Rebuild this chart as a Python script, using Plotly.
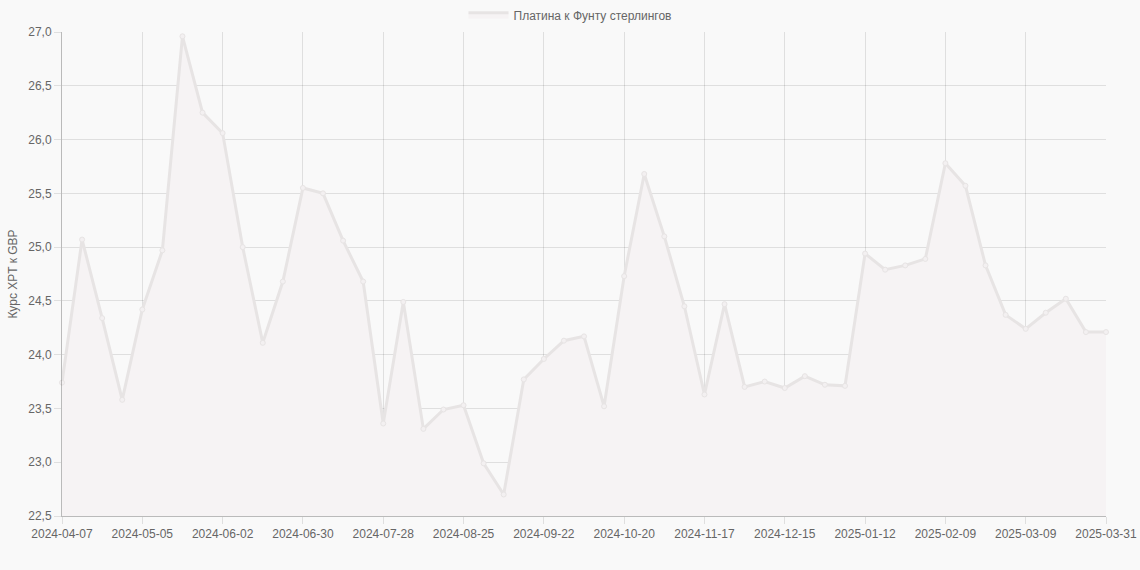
import plotly.graph_objects as go

# weekly dates (category axis, like the original chart)
dates = [
    "2024-04-07", "2024-04-14", "2024-04-21", "2024-04-28", "2024-05-05", "2024-05-12",
    "2024-05-19", "2024-05-26", "2024-06-02", "2024-06-09", "2024-06-16", "2024-06-23",
    "2024-06-30", "2024-07-07", "2024-07-14", "2024-07-21", "2024-07-28", "2024-08-04",
    "2024-08-11", "2024-08-18", "2024-08-25", "2024-09-01", "2024-09-08", "2024-09-15",
    "2024-09-22", "2024-09-29", "2024-10-06", "2024-10-13", "2024-10-20", "2024-10-27",
    "2024-11-03", "2024-11-10", "2024-11-17", "2024-11-24", "2024-12-01", "2024-12-08",
    "2024-12-15", "2024-12-22", "2024-12-29", "2025-01-05", "2025-01-12", "2025-01-19",
    "2025-01-26", "2025-02-02", "2025-02-09", "2025-02-16", "2025-02-23", "2025-03-02",
    "2025-03-09", "2025-03-16", "2025-03-23", "2025-03-30", "2025-03-31",
]

xpt_gbp = [
    23.74, 25.07, 24.34, 23.58, 24.42, 24.97, 26.96, 26.25, 26.06, 25.00, 24.11, 24.68,
    25.55, 25.50, 25.06, 24.68, 23.36, 24.49, 23.31, 23.49, 23.53, 22.99, 22.70, 23.77,
    23.96, 24.13, 24.17, 23.52, 24.73, 25.68, 25.10, 24.45, 23.63, 24.47, 23.70, 23.75,
    23.69, 23.80, 23.72, 23.71, 24.94, 24.79, 24.83, 24.89, 25.78, 25.57, 24.83, 24.37,
    24.24, 24.39, 24.52, 24.21, 24.21,
]

# every 4th label plus the last one, as the chart shows
tick_labels = dates[::4] + [dates[-1]]

series_name = "Платина к Фунту стерлингов"
line_col = "rgb(231,228,228)"
fill_col = "rgb(246,243,244)"
text_col = "#666666"
grid_col = "rgba(0,0,0,0.1)"

fig = go.Figure()

# area + line
fig.add_trace(go.Scatter(
    x=dates,
    y=xpt_gbp,
    mode="lines",
    name=series_name,
    showlegend=False,
    line=dict(color=line_col, width=3),
    fill="tozeroy",
    fillcolor=fill_col,
    cliponaxis=False,
))

# point markers
fig.add_trace(go.Scatter(
    x=dates,
    y=xpt_gbp,
    mode="markers",
    showlegend=False,
    marker=dict(size=5, color="rgb(243,240,241)", line=dict(color=line_col, width=1)),
    cliponaxis=False,
))

# legend entry only (boxed swatch like the original)
fig.add_trace(go.Scatter(
    x=[None],
    y=[None],
    mode="lines",
    name=series_name,
    fill="toself",
    fillcolor=fill_col,
    line=dict(color=line_col, width=3),
))

fig.update_layout(
    width=1140,
    height=570,
    paper_bgcolor="#f9f9f9",
    plot_bgcolor="#f9f9f9",
    margin=dict(l=62, r=34, t=32, b=54, autoexpand=False),
    font=dict(family="Arial, Liberation Sans, sans-serif", size=12, color=text_col),
    separators=", ",
    legend=dict(
        orientation="h",
        xref="container", x=0.5, xanchor="center",
        yref="container", y=0.974, yanchor="middle",
        itemwidth=40,
        font=dict(size=12, color=text_col),
        bgcolor="rgba(0,0,0,0)",
    ),
    showlegend=True,
)

fig.update_xaxes(
    type="category",
    range=[0, len(dates) - 1],
    tickmode="array",
    tickvals=tick_labels,
    ticktext=tick_labels,
    tickangle=0,
    automargin=False,
    showgrid=True,
    gridcolor=grid_col,
    ticks="outside",
    ticklen=7,
    tickcolor=grid_col,
    showline=True,
    linecolor="rgba(0,0,0,0.25)",
    zeroline=False,
    tickfont=dict(size=12, color=text_col),
)

fig.update_yaxes(
    range=[22.5, 27.0],
    dtick=0.5,
    tickformat=".1f",
    automargin=False,
    showgrid=True,
    gridcolor=grid_col,
    ticks="outside",
    ticklen=7,
    tickcolor=grid_col,
    showline=True,
    linecolor="rgba(0,0,0,0.25)",
    zeroline=False,
    title=dict(text="Курс XPT к GBP", standoff=8, font=dict(size=12, color=text_col)),
    tickfont=dict(size=12, color=text_col),
)

fig.write_html(
    "out.html",
    config={"displayModeBar": False},
    post_script="document.body.style.margin='0';",
)
